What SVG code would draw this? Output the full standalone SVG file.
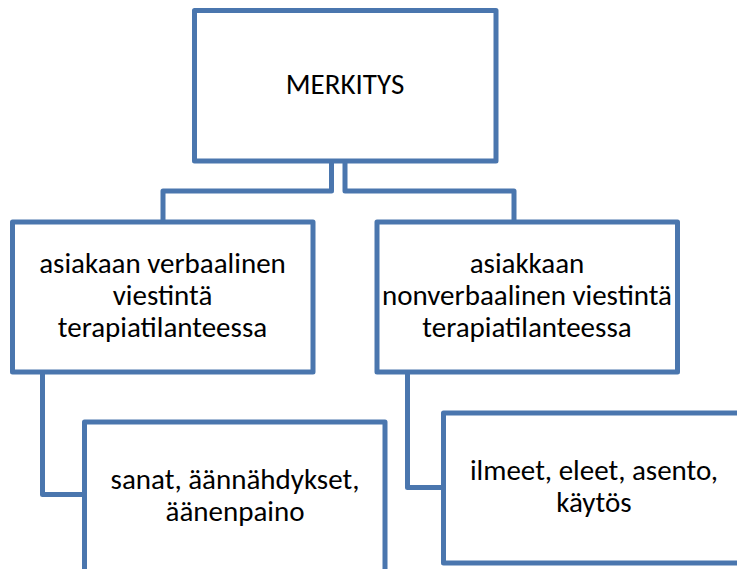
<svg xmlns="http://www.w3.org/2000/svg" width="737" height="569" viewBox="0 0 737 569">
<style>
.box{fill:#ffffff;stroke:#4a76ae;stroke-width:5;stroke-linejoin:round}
.con{fill:none;stroke:#4a76ae;stroke-width:5;stroke-linejoin:round}
.t{font-family:Calibri,Carlito,"Liberation Sans",Arial,sans-serif;font-size:29px;fill:#000000;text-anchor:middle}
</style>
<rect width="737" height="569" fill="#ffffff"/>
<g id="connectors">
<path class="con" d="M331.5 161 V191 H163 V222"/>
<path class="con" d="M345 161 V191 H514 V222"/>
<path class="con" d="M42.5 372 V494.5 H84.5"/>
<path class="con" d="M407.5 372 V487.5 H443.5"/>
</g>
<g id="merkitys">
<rect class="box" x="194.5" y="10.5" width="301.5" height="150.5"/>
<text class="t" x="345" y="94">MERKITYS</text>
</g>
<g id="verbaalinen">
<rect class="box" x="12.5" y="222" width="300.5" height="150"/>
<text class="t" x="162.5" y="272.5">asiakaan verbaalinen</text>
<text class="t" x="162.5" y="304.5">viestintä</text>
<text class="t" x="162.5" y="336.5">terapiatilanteessa</text>
</g>
<g id="nonverbaalinen">
<rect class="box" x="377" y="222" width="300.5" height="150"/>
<text class="t" x="527" y="272.5">asiakkaan</text>
<text class="t" x="527" y="304.5">nonverbaalinen viestintä</text>
<text class="t" x="527" y="336.5">terapiatilanteessa</text>
</g>
<g id="sanat">
<rect class="box" x="84.5" y="422" width="300.5" height="200"/>
<text class="t" x="235" y="488.5">sanat, äännähdykset,</text>
<text class="t" x="235" y="520.5">äänenpaino</text>
</g>
<g id="ilmeet">
<rect class="box" x="443.5" y="413" width="300.5" height="150"/>
<text class="t" x="594" y="479.5">ilmeet, eleet, asento,</text>
<text class="t" x="594" y="511.5">käytös</text>
</g>
</svg>
